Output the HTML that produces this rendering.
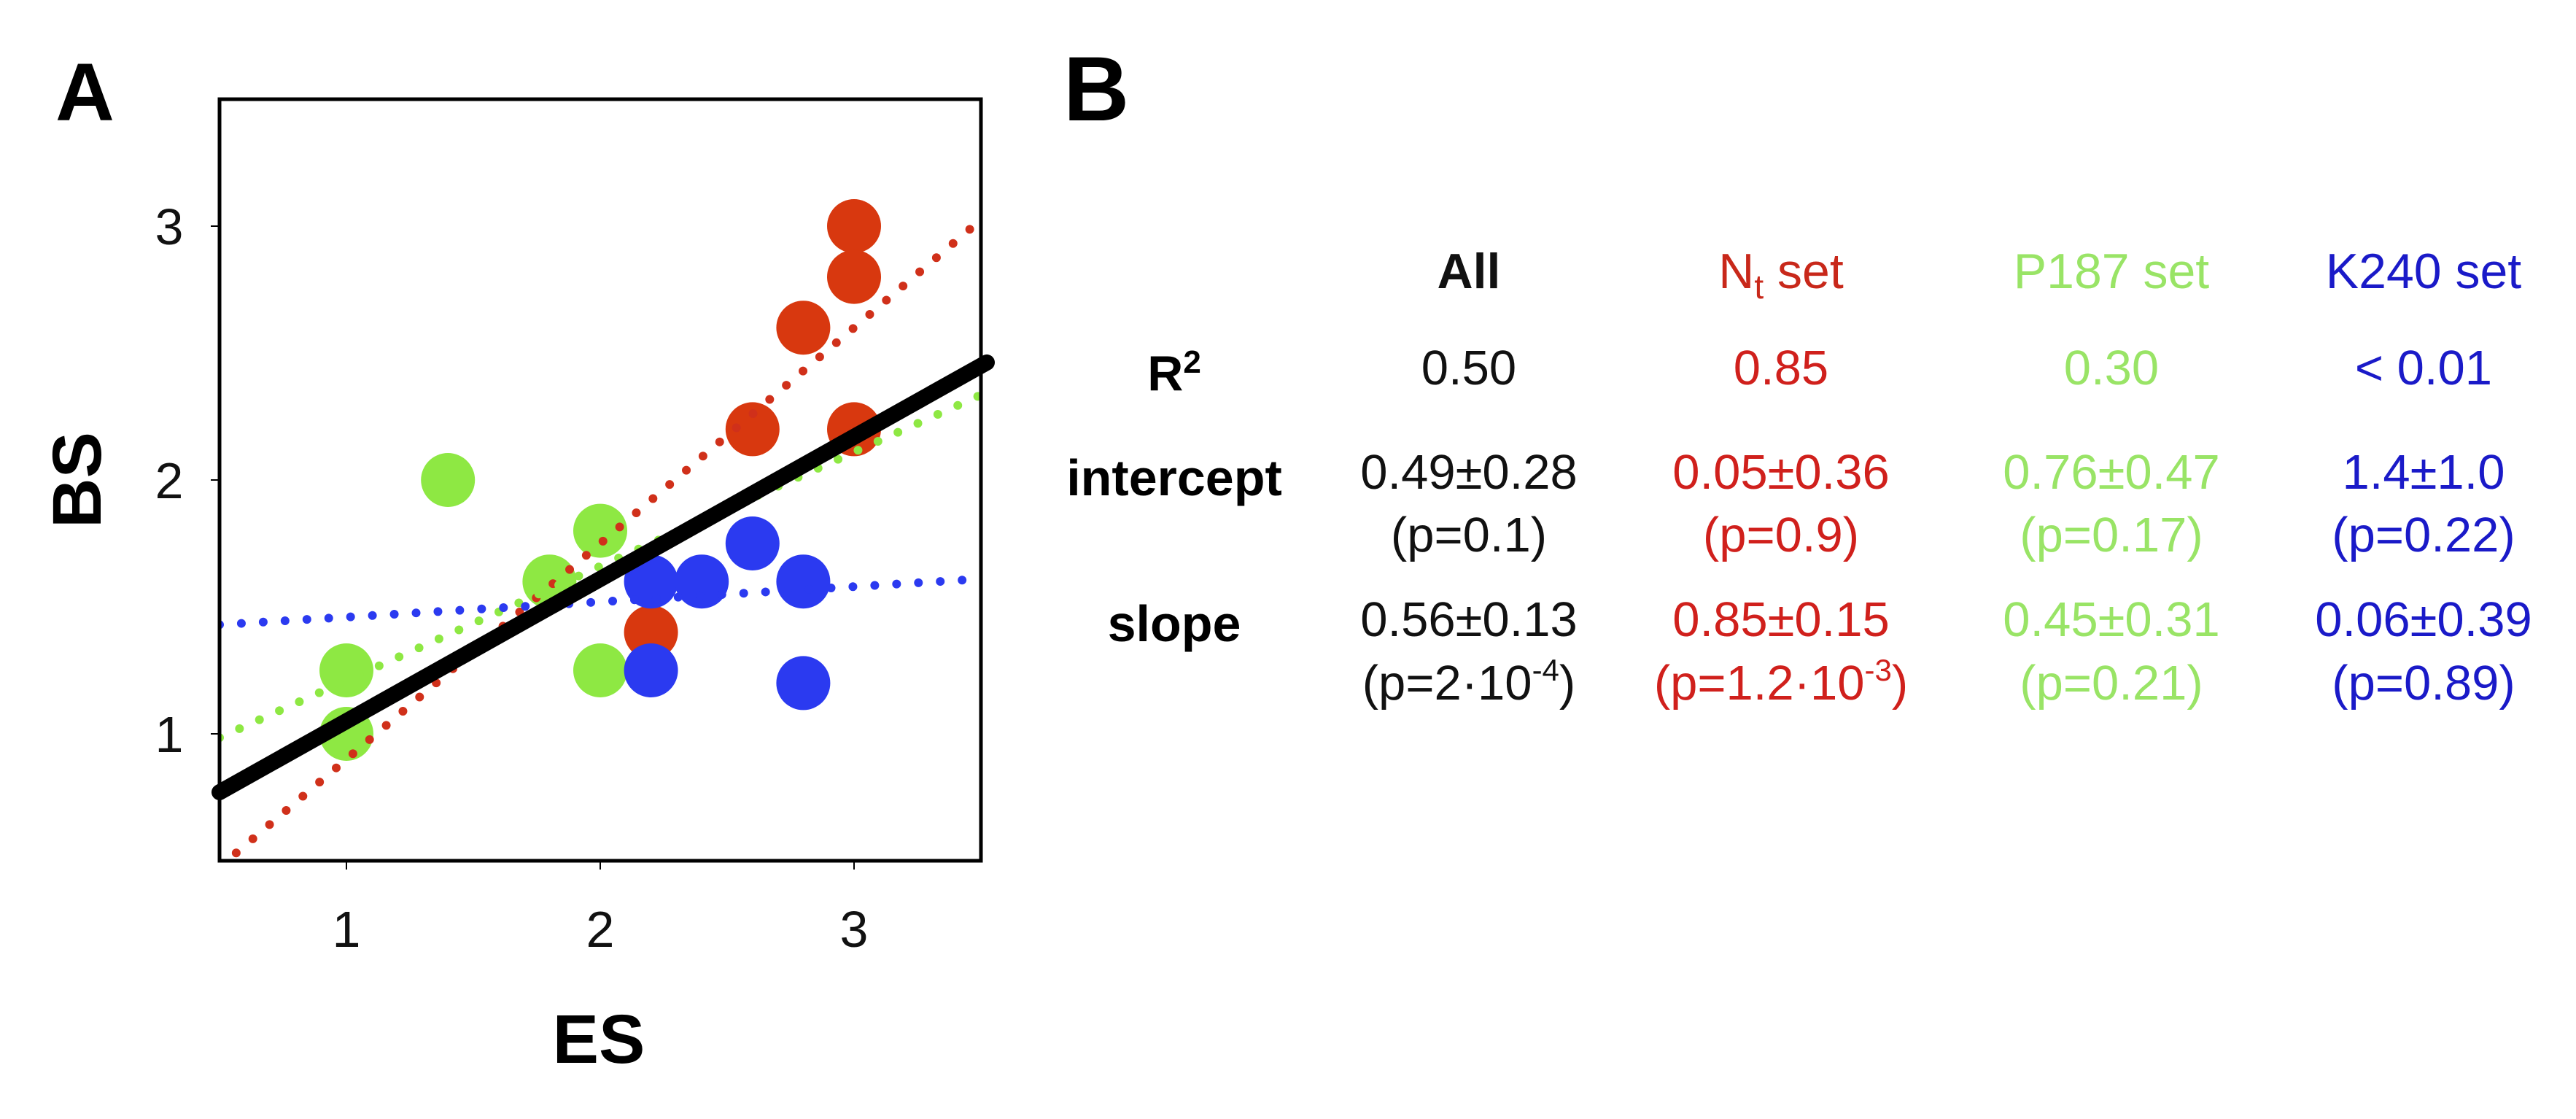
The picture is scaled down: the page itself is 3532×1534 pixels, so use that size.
<!DOCTYPE html>
<html><head><meta charset="utf-8"><style>
html,body{margin:0;padding:0;background:#fff;}
svg{display:block;}
text{font-family:"Liberation Sans",Arial,sans-serif;}
</style></head><body>
<svg id="fig" width="3532" height="1534" viewBox="0 0 3532 1534" xmlns="http://www.w3.org/2000/svg">
<defs><clipPath id="plotclip"><rect x="301" y="136" width="1044" height="1044"/></clipPath></defs>
<text x="76" y="165" font-size="112" font-weight="bold">A</text>
<text x="1458" y="165" font-size="125" font-weight="bold">B</text>
<g id="plot"></g>
<g id="table"></g>
</svg>
<script>
// ---- Chart data ----
const xTicks = [1, 2, 3];
const yTicks = [1, 2, 3];
const redX = [3, 3, 2.8, 2.6, 3, 2.2];
const redY = [3, 2.8, 2.6, 2.2, 2.2, 1.4];
const greenX = [1.4, 2, 1.8, 1, 1, 2];
const greenY = [2, 1.8, 1.6, 1.25, 1, 1.25];
const blueX = [2.2, 2.4, 2.6, 2.8, 2.2, 2.8];
const blueY = [1.6, 1.6, 1.75, 1.6, 1.25, 1.2];
const fitNames = ['all', 'nt', 'p187', 'k240'];
const fitIntercepts = [0.49, 0.05, 0.76, 1.4];
const fitSlopes = [0.56, 0.85, 0.45, 0.06];

const NS = 'http://www.w3.org/2000/svg';
const X0 = 301, X1 = 1345, Y0 = 1180, Y1 = 136, DMIN = 0.5, DMAX = 3.5;
function sx(v){ return X0 + (v - DMIN) / (DMAX - DMIN) * (X1 - X0); }
function sy(v){ return Y0 - (v - DMIN) / (DMAX - DMIN) * (Y0 - Y1); }
function mk(tag, attrs, parent){ const e = document.createElementNS(NS, tag); for (const k in attrs) e.setAttribute(k, attrs[k]); parent.appendChild(e); return e; }

const plot = document.getElementById('plot');
const colors = {red:'#d8380f', green:'#8ee843', blue:'#2b3af0'};
const lineColors = ['#000000', '#d0301a', '#8ee843', '#2b3af0'];

// points
const series = [['red', redX, redY], ['green', greenX, greenY], ['blue', blueX, blueY]];
series.forEach(s => {
  s[1].forEach((xv, i) => {
    const c = mk('circle', {cx: sx(xv), cy: sy(s[2][i]), r: 37, fill: colors[s[0]]}, plot);
    
    
  });
});

// fit lines
const lg = mk('g', {'clip-path': 'url(#plotclip)'}, plot);


[1, 2, 3].forEach(i => {
  const l = mk('line', {x1: sx(DMIN), y1: sy(fitIntercepts[i] + fitSlopes[i]*DMIN), x2: sx(DMAX), y2: sy(fitIntercepts[i] + fitSlopes[i]*DMAX), stroke: lineColors[i], 'stroke-width': 12, 'stroke-linecap': 'round', 'stroke-dasharray': '0 30'}, lg);
  
  
});
const bl = mk('line', {x1: sx(DMIN), y1: sy(fitIntercepts[0] + fitSlopes[0]*DMIN), x2: sx(DMAX) + 8, y2: sy(fitIntercepts[0] + fitSlopes[0]*(DMAX + 8/348)), stroke: '#000', 'stroke-width': 22, 'stroke-linecap': 'round'}, plot);



// frame
const fr = mk('rect', {x: X0, y: Y1, width: X1 - X0, height: Y0 - Y1, fill: 'none', stroke: '#000', 'stroke-width': 5}, plot);



xTicks.forEach(t => {
  const tk = mk('line', {x1: sx(t), y1: Y0, x2: sx(t), y2: Y0 + 12, stroke: '#000', 'stroke-width': 2}, plot);
  
  
  const tx = mk('text', {x: sx(t), y: 1298, 'font-size': 70, 'text-anchor': 'middle', fill: '#111'}, plot);
  tx.textContent = t;
  
  
});
yTicks.forEach(t => {
  const tk = mk('line', {x1: X0 - 12, y1: sy(t), x2: X0, y2: sy(t), stroke: '#000', 'stroke-width': 2}, plot);
  
  
  const tx = mk('text', {x: 232, y: sy(t) + 25, 'font-size': 70, 'text-anchor': 'middle', fill: '#111'}, plot);
  tx.textContent = t;
  
  
});
const xt = mk('text', {x: 821, y: 1457, 'font-size': 95, 'font-weight': 'bold', 'text-anchor': 'middle'}, plot);
xt.textContent = 'ES';


const yt = mk('text', {x: 0, y: 0, 'font-size': 95, 'font-weight': 'bold', 'text-anchor': 'middle', transform: 'translate(138,658) rotate(-90)'}, plot);
yt.textContent = 'BS';



// ---- Table ----
const table = document.getElementById('table');
const colX = [2014, 2442, 2895, 3323];
const colColors = ['#111111', '#d0201c', '#99e466', '#1a1ac8'];
const r2Vals = ['0.50', '0.85', '0.30', '< 0.01'];
const intVals = ['0.49±0.28', '0.05±0.36', '0.76±0.47', '1.4±1.0'];
const intP = ['(p=0.1)', '(p=0.9)', '(p=0.17)', '(p=0.22)'];
const slopeVals = ['0.56±0.13', '0.85±0.15', '0.45±0.31', '0.06±0.39'];
function tt(x, y, str, color, size, bold, name){
  const t = mk('text', {x: x, y: y, 'font-size': size, 'text-anchor': 'middle', fill: color, 'font-weight': bold ? 'bold' : 'normal'}, table);
  t.textContent = str;
  
  
  return t;
}
// headers
tt(colX[0], 395, 'All', '#111', 68, true, 'header-all');
const hn = mk('text', {x: colX[1], y: 395, 'font-size': 68, 'text-anchor': 'middle', fill: '#c8281a'}, table);
hn.innerHTML = 'N<tspan font-size="46" dy="14">t</tspan><tspan dy="-14"> set</tspan>';


tt(colX[2], 395, 'P187 set', colColors[2], 68, false, 'header-p187-set');
tt(colX[3], 395, 'K240 set', colColors[3], 68, false, 'header-k240-set');
// row labels
const r2l = mk('text', {x: 1610, y: 535, 'font-size': 68, 'text-anchor': 'middle', 'font-weight': 'bold'}, table);
r2l.innerHTML = 'R<tspan font-size="44" dy="-24">2</tspan>';


tt(1610, 679, 'intercept', '#000', 70, true, 'row-label-intercept');
tt(1610, 879, 'slope', '#000', 70, true, 'row-label-slope');
colX.forEach((x, i) => {
  tt(x, 527, r2Vals[i], colColors[i], 67, false, 'r2-value');
  tt(x, 670, intVals[i], colColors[i], 67, false, 'intercept-value');
  tt(x, 756, intP[i], colColors[i], 67, false, 'intercept-p-value');
  tt(x, 872, slopeVals[i], colColors[i], 67, false, 'slope-value');
});
const sp0 = mk('text', {x: colX[0], y: 959, 'font-size': 67, 'text-anchor': 'middle', fill: colColors[0]}, table);
sp0.innerHTML = '(p=2·10<tspan font-size="42" dy="-26">-4</tspan><tspan dy="26">)</tspan>';


const sp1 = mk('text', {x: colX[1], y: 959, 'font-size': 67, 'text-anchor': 'middle', fill: colColors[1]}, table);
sp1.innerHTML = '(p=1.2·10<tspan font-size="42" dy="-26">-3</tspan><tspan dy="26">)</tspan>';


tt(colX[2], 959, '(p=0.21)', colColors[2], 67, false, 'slope-p-value');
tt(colX[3], 959, '(p=0.89)', colColors[3], 67, false, 'slope-p-value');
</script>
</body></html>
